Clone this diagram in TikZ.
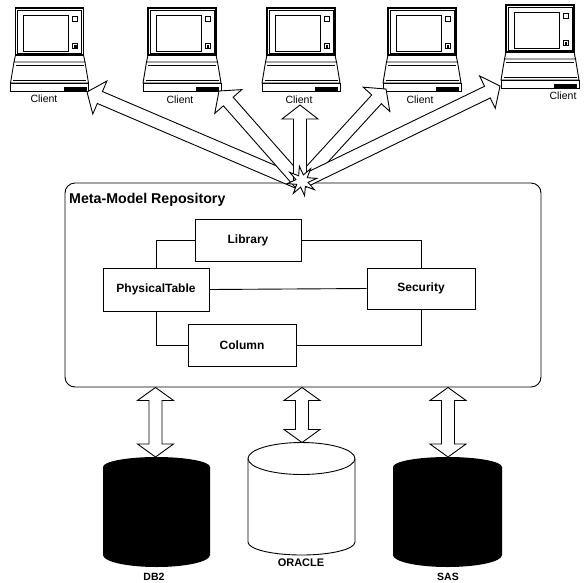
\documentclass[tikz,border=0pt]{standalone}
\usepackage{fontspec}
\setmainfont{Liberation Sans}
\usetikzlibrary{calc,shapes.geometric}

\tikzset{
  lw/.style={line width=0.9pt},
  hair/.style={line width=0.6pt},
  entity/.style={draw, line width=0.9pt, minimum width=106pt, minimum height=42pt,
    inner sep=0pt, font=\fontsize{12}{14}\selectfont\bfseries},
  link/.style={draw, line width=0.9pt},
  repo/.style={draw, line width=0.9pt, rounded corners=10pt, inner sep=0pt},
  blockarrow/.style={draw, fill=white, line width=0.9pt, line join=miter},
  clientlabel/.style={font=\fontsize{10.5}{12}\selectfont, inner sep=0pt},
  dblabel/.style={font=\fontsize{10.5}{12}\selectfont\bfseries, inner sep=0pt},
  laptop/.pic={
    % lid and screen
    \draw[line width=1.2pt] (-34,8) rectangle (34,55);
    \draw[hair] (-32,10.5) rectangle (32,53);
    \draw[lw] (-26,15) rectangle (19,51);
    \draw[hair] (23,16) rectangle (28,21);
    \draw[hair] (23,43) rectangle (28,48);
    \fill (24.5,45) rectangle (27,47.5);
    % hinge and keyboard deck
    \draw[lw] (-34,55) -- (-35.5,62) -- (35.5,62) -- (34,55);
    \draw[lw] (-35.5,62) -- (-39,83) -- (39,83) -- (35.5,62);
    \draw[hair] (-34,65) -- (34,65);
    \draw[hair] (-36.5,80) -- (36.5,80);
    % front edge with drive slot
    \draw[lw] (-39,83) rectangle (39,91.5);
    \fill (14,87) rectangle (37,91.5);
  }
}

% single block arrow from #1 (tail) to #2 (tip)
\newcommand\singlearrow[2]{%
  \coordinate (hb) at ($(#2)!14pt!(#1)$);
  \draw[blockarrow] ($(#1)!6.5pt!90:(#2)$) -- ($(hb)!6.5pt!-90:(#1)$)
    -- ($(hb)!18pt!-90:(#1)$) -- (#2) -- ($(hb)!18pt!90:(#1)$)
    -- ($(hb)!6.5pt!90:(#1)$) -- ($(#1)!6.5pt!-90:(#2)$) -- cycle;
}
% double-headed block arrow between #1 and #2
\newcommand\doublearrow[2]{%
  \coordinate (ha) at ($(#1)!13pt!(#2)$);
  \coordinate (hz) at ($(#2)!13pt!(#1)$);
  \draw[blockarrow] (#1) -- ($(ha)!18pt!90:(#2)$) -- ($(ha)!6.5pt!90:(#2)$)
    -- ($(hz)!6.5pt!-90:(#1)$) -- ($(hz)!18pt!-90:(#1)$) -- (#2)
    -- ($(hz)!18pt!90:(#1)$) -- ($(hz)!6.5pt!90:(#1)$)
    -- ($(ha)!6.5pt!-90:(#2)$) -- ($(ha)!18pt!-90:(#2)$) -- cycle;
}

\begin{document}
\begin{tikzpicture}[x=1pt, y=-1pt]
\useasboundingbox (0,0) rectangle (586,582);

% clients
\pic at (49.5,0) {laptop};
\pic at (182,0) {laptop};
\pic at (301,0) {laptop};
\pic at (422,0) {laptop};
\pic at (540,-3) {laptop};
\node[clientlabel] (c1) at (44,99) {Client};
\node[clientlabel] (c2) at (180,100) {Client};
\node[clientlabel] (c3) at (299,100) {Client};
\node[clientlabel] (c4) at (420,100) {Client};
\node[clientlabel] (c5) at (563,96) {Client};

% repository
\node[repo, minimum width=476pt, minimum height=204pt] (repo) at (303,285) {};
\node[anchor=west, inner sep=0pt, font=\fontsize{14.2}{16}\selectfont\bfseries]
  (repotitle) at (69,200) {Meta-Model Repository};

\node[entity] (lib) at (248,240) {Library};
\node[entity, minimum height=43pt] (pt) at (156,289.5) {PhysicalTable};
\node[entity, minimum width=108pt] (col) at (242,345) {Column};
\node[entity, minimum width=108pt, minimum height=41pt] (sec) at (421,288.5) {Security};

\draw[link] (lib.west) -| (pt.north);
\draw[link] (pt.south) |- (col.west);
\draw[link] (lib.east) -| (sec.north);
\draw[link] (sec.south) |- (col.east);
\draw[link] (pt.east) -- (sec.west);

% client connections fanning out of the repository
\coordinate (hub) at (300,183);
\coordinate (t1) at (87,92);
\coordinate (t2) at (219,91);
\coordinate (t3) at (300,105);
\coordinate (t4) at (386,89);
\coordinate (t5) at (500,86);
\singlearrow{hub}{t1}
\singlearrow{hub}{t2}
\singlearrow{hub}{t4}
\singlearrow{hub}{t5}
\singlearrow{hub}{t3}
\node[star, star points=8, star point ratio=2.4, minimum size=30pt, draw, fill=white,
  line width=0.9pt, rotate=10, inner sep=0pt] (burst) at (302,181) {};

% data sources
\fill (103,467) -- (103,555) arc[start angle=180, end angle=0, x radius=53.5, y radius=12]
  -- (210,467) arc[start angle=0, end angle=-180, x radius=53.5, y radius=10] -- cycle;
\draw[lw, fill=white] (248,458.5) -- (248,542)
  arc[start angle=180, end angle=0, x radius=53.5, y radius=13] -- (355,458.5);
\draw[lw] (301.5,458.5) ellipse[x radius=53.5, y radius=16];
\fill (393,467) -- (393,555) arc[start angle=180, end angle=0, x radius=54.5, y radius=12]
  -- (502,467) arc[start angle=0, end angle=-180, x radius=54.5, y radius=10] -- cycle;

\node[dblabel] (db2) at (154,577) {DB2};
\node[dblabel, font=\fontsize{11}{12}\selectfont\bfseries] (ora) at (301,563) {ORACLE};
\node[dblabel] (sas) at (448,577) {SAS};

\coordinate (db2top) at (155.5,457);
\coordinate (oratop) at (302,442.5);
\coordinate (sastop) at (448,457);
\doublearrow{repo.south -| db2top}{db2top}
\doublearrow{repo.south -| oratop}{oratop}
\doublearrow{repo.south -| sastop}{sastop}
\end{tikzpicture}
\end{document}
